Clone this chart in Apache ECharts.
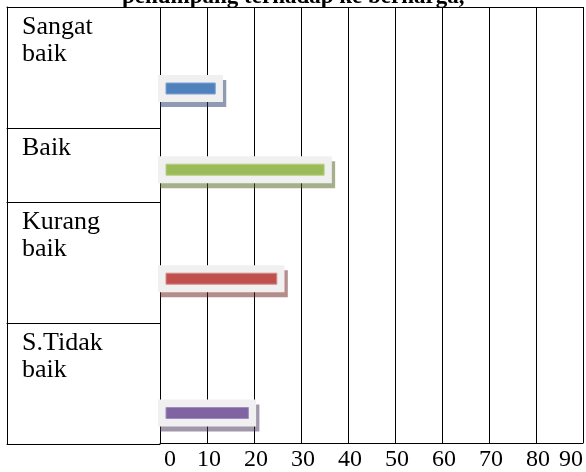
<!DOCTYPE html>
<html>
<head>
<meta charset="utf-8">
<script src="https://cdn.jsdelivr.net/npm/echarts@6/dist/echarts.min.js"></script>
<style>
html,body{margin:0;padding:0;background:#fff;}
#c{width:586px;height:472px;}
</style>
</head>
<body>
<div id="c"></div>
<script>
// ---- data ----
const categories = ['Sangat\nbaik', 'Baik', 'Kurang\nbaik', 'S.Tidak\nbaik'];
const values = [14, 37, 27, 21];
const xMin = 0, xMax = 90, xStep = 10;
const titleText = 'penumpang terhadap ke berharga,';

// ---- styles / layout ----
const barColors = ['#4f81bd', '#9bbb59', '#c0504d', '#8064a2'];
const barEdge = ['#7fa2d3', '#b5d17f', '#d98a88', '#a08bc0'];
const shadowColors = ['rgba(31,56,99,0.5)', 'rgba(75,95,25,0.5)', 'rgba(105,25,25,0.5)', 'rgba(65,49,85,0.5)'];
const rowTops = [7, 128, 202, 323, 444];
const barCenters = [88.5, 169.7, 278.7, 413];
const plotLeft = 160, plotWidth = 427, tableLeft = 7;
const FONT = '"Liberation Serif", "Times New Roman", Times, serif';

const grid = [{left: plotLeft, top: rowTops[0], width: plotWidth, height: rowTops[4] - rowTops[0]}];
const xAxis = [
  {gridIndex: 0, type: 'value', min: xMin, max: xMax, interval: xStep, position: 'bottom',
   axisLine: {show: true, lineStyle: {color: '#000', width: 1}}, axisTick: {show: false},
   splitLine: {show: true, lineStyle: {color: '#000', width: 1}},
   axisLabel: {color: '#000', fontFamily: FONT, fontSize: 24, margin: 5,
     alignMinLabel: 'left', alignMaxLabel: 'right', padding: [0, 0, 0, 4]}},
  {gridIndex: 0, type: 'value', min: xMin, max: xMax, position: 'top',
   axisLine: {show: true, lineStyle: {color: '#000', width: 1}}, axisTick: {show: false},
   splitLine: {show: false}, axisLabel: {show: false}}
];
const yAxis = [{gridIndex: 0, type: 'value', show: false, min: 0, max: 1}];

// label column cells
categories.forEach((cat, i) => {
  const gi = grid.length;
  grid.push({left: tableLeft, top: rowTops[i], width: plotLeft - tableLeft, height: rowTops[i + 1] - rowTops[i]});
  xAxis.push({gridIndex: gi, type: 'value', min: 0, max: 1, position: 'bottom',
    axisLine: {show: true, lineStyle: {color: '#000', width: 1}}, axisTick: {show: false},
    splitLine: {show: false}, axisLabel: {show: false}});
  if (i === 0) {
    xAxis.push({gridIndex: gi, type: 'value', min: 0, max: 1, position: 'top',
      axisLine: {show: true, lineStyle: {color: '#000', width: 1}}, axisTick: {show: false},
      splitLine: {show: false}, axisLabel: {show: false}});
  }
  yAxis.push({gridIndex: gi, type: 'category', data: [cat, ''], inverse: true, boundaryGap: false,
    axisLine: {show: true, lineStyle: {color: '#000', width: 1}}, axisTick: {show: false},
    splitLine: {show: false},
    axisLabel: {inside: true, interval: 0, margin: 15, align: 'left', verticalAlign: 'top',
      color: '#000', fontFamily: FONT, fontSize: 26, lineHeight: 26.5, padding: [7, 0, 0, 0]}});
});

// bar bands
const series = [];
categories.forEach((cat, i) => {
  const gi = grid.length;
  grid.push({left: plotLeft, width: plotWidth, top: barCenters[i] - 14, height: 28});
  const xi = xAxis.length, yi = yAxis.length;
  xAxis.push({gridIndex: gi, type: 'value', min: xMin, max: xMax, show: false});
  yAxis.push({gridIndex: gi, type: 'category', data: [cat], show: false});
  series.push({
    type: 'custom', xAxisIndex: xi, yAxisIndex: yi, z: 5,
    data: [[values[i], 0]],
    renderItem: function (params, api) {
      const p0 = api.coord([0, api.value(1)]);
      const p1 = api.coord([api.value(0), api.value(1)]);
      const x0 = p0[0], xe = p1[0], yc = p1[1];
      const h = 27, ih = 11;
      return {type: 'group', children: [
        {type: 'rect', shape: {x: x0, y: yc - h / 2 + 5, width: xe - x0, height: h},
         style: {fill: shadowColors[i]}},
        {type: 'rect', shape: {x: x0 - 2, y: yc - h / 2, width: (xe - 3.3) - (x0 - 2), height: h},
         style: {fill: '#f0f0f0'}},
        {type: 'rect', shape: {x: x0 + 6, y: yc - ih / 2, width: (xe - 11) - (x0 + 6), height: ih},
         style: {fill: barColors[i], stroke: barEdge[i], lineWidth: 1}}
      ]};
    }
  });
});

const chart = echarts.init(document.getElementById('c'), null, {renderer: 'canvas'});
chart.setOption({
  animation: false,
  backgroundColor: '#fff',
  textStyle: {fontFamily: FONT},
  title: {text: titleText, left: 117, top: -19,
    textStyle: {fontFamily: FONT, fontWeight: 'bold', fontSize: 23, color: '#000'}},
  grid: grid, xAxis: xAxis, yAxis: yAxis, series: series
});
</script>
</body>
</html>
